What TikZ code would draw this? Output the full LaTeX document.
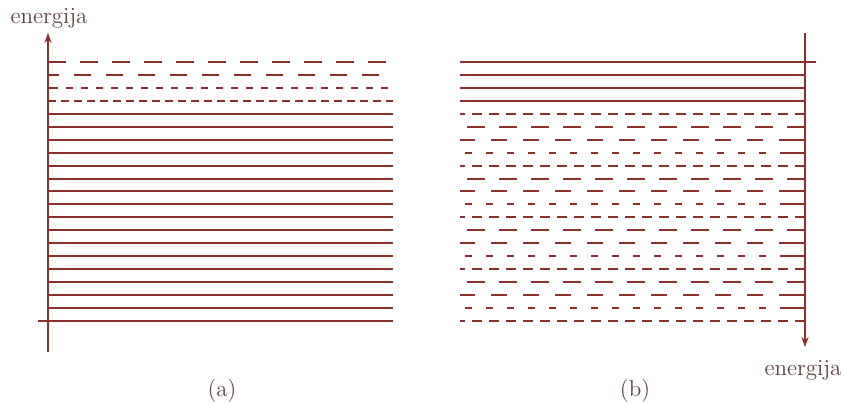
\documentclass[tikz,border=0pt]{standalone}
\usetikzlibrary{arrows.meta}
\definecolor{lvl}{RGB}{140,48,42}
\definecolor{txt}{RGB}{95,66,64}
\tikzset{
  lev/.style={draw=lvl, line width=0.8pt},
  axisln/.style={draw=lvl, line width=0.85pt, -{Stealth[length=5pt,width=3.6pt]}},
  lab/.style={text=txt, font=\fontsize{11.5}{13}\selectfont, inner sep=0pt, anchor=base},
  pA/.style={dash pattern=on 5pt off 3.5pt},
  pB/.style={dash pattern=on 9pt off 7pt},
  pC/.style={dash pattern=on 8pt off 8pt, dash phase=4pt},
  pD/.style={dash pattern=on 3.5pt off 7pt},
}
\begin{document}
\begin{tikzpicture}[x=0.5pt,y=-0.5pt]
\useasboundingbox (0,0) rectangle (844,402);
% ---------- panel (a)
\coordinate (aBot) at (48,352);
\coordinate (aTop) at (48,33);
\draw[axisln] (aBot) -- (aTop);
\node[lab] (ela) at (49,23) {energija};
\node[lab] (capa) at (222,396) {(a)};
% dashed upper levels
\coordinate (a0l) at (48,62);  \coordinate (a0r) at (393,62);
\coordinate (a1l) at (48,75);  \coordinate (a1r) at (393,75);
\coordinate (a1s) at (58,75);
\coordinate (a2l) at (48,88);  \coordinate (a2r) at (393,88);
\coordinate (a2s) at (58,88);
\coordinate (a3l) at (48,101); \coordinate (a3r) at (393,101);
\draw[lev, dash pattern=on 9pt off 7pt] (a0l) -- (a0r);
\draw[lev] (a1l) -- (a1s);
\draw[lev, dash pattern=on 8.5pt off 7.5pt, dash phase=-8pt] (a1s) -- (a1r);
\draw[lev] (a2l) -- (a2s);
\draw[lev, dash pattern=on 3.5pt off 4pt, dash phase=-4pt] (a2s) -- (a2r);
\draw[lev, dash pattern=on 4pt off 2.5pt] (a3l) -- (a3r);
% solid levels
\foreach \i in {4,...,19} {
  \pgfmathtruncatemacro\yy{round(62+\i*12.95)}
  \coordinate (al\i) at (48,\yy);
  \coordinate (ar\i) at (393,\yy);
  \draw[lev] (al\i) -- (ar\i);
}
\coordinate (al20) at (38,321);
\coordinate (ar20) at (393,321);
\draw[lev] (al20) -- (ar20);
% ---------- panel (b)
\coordinate (bTop) at (805,33);
\coordinate (bBot) at (805,347);
\draw[axisln] (bTop) -- (bBot);
\node[lab] (elb) at (803,375) {energija};
\node[lab] (capb) at (635,396) {(b)};
% solid upper levels
\coordinate (b0l) at (460,62); \coordinate (b0r) at (816,62);
\draw[lev] (b0l) -- (b0r);
\foreach \i in {1,2,3} {
  \pgfmathtruncatemacro\yy{round(62+\i*12.95)}
  \coordinate (bl\i) at (460,\yy);
  \coordinate (br\i) at (805,\yy);
  \draw[lev] (bl\i) -- (br\i);
}
% dashed lower levels (pattern A B C D repeating), drawn from the axis leftwards
\foreach \i in {4,...,20} {
  \pgfmathtruncatemacro\yy{round(62+\i*12.95)}
  \pgfmathtruncatemacro\k{mod(\i,4)}
  \coordinate (bl\i) at (460,\yy);
  \coordinate (br\i) at (805,\yy);
  \coordinate (bs\i) at (787,\yy);
  \ifcase\k
    \draw[lev, pA] (br\i) -- (bl\i);
  \or
    \draw[lev, pB] (br\i) -- (bl\i);
  \or
    \draw[lev] (br\i) -- (bs\i);
    \draw[lev, pC] (bs\i) -- (bl\i);
  \or
    \draw[lev] (br\i) -- (bs\i);
    \draw[lev, pD] (bs\i) -- (bl\i);
  \fi
}
\end{tikzpicture}
\end{document}
